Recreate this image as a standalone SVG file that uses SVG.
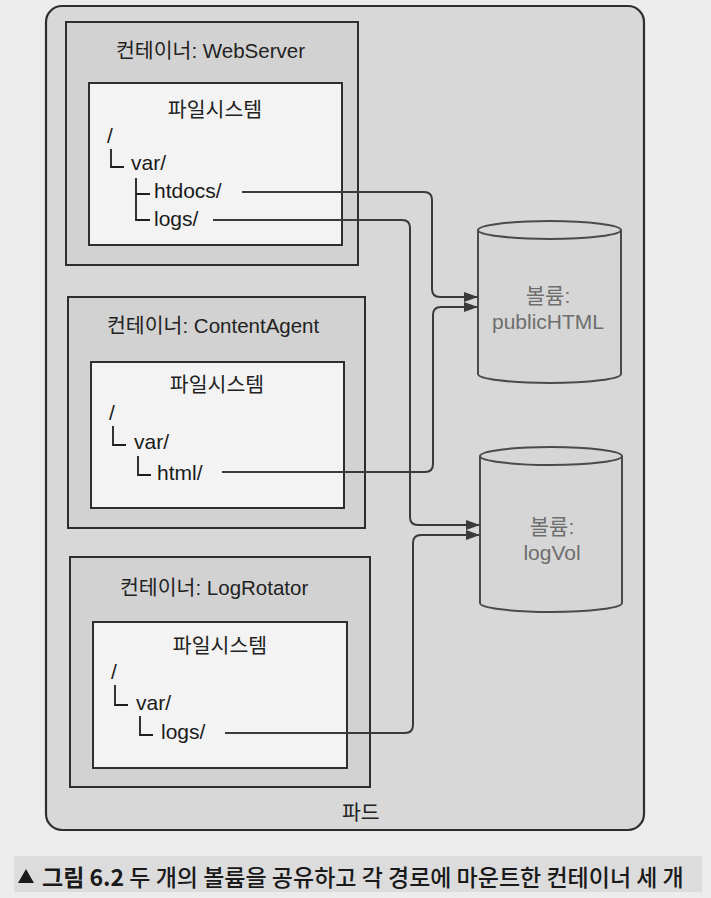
<svg xmlns="http://www.w3.org/2000/svg" width="711" height="898" viewBox="0 0 711 898">
<defs>
<style>
.t{font-family:"Liberation Sans","Noto Sans CJK KR",sans-serif;font-size:20.5px;fill:#222}
.tree{font-family:"Liberation Sans","Noto Sans CJK KR",sans-serif;font-size:21px;fill:#1a1a1a}
.vol{font-family:"Liberation Sans","Noto Sans CJK KR",sans-serif;font-size:21px;fill:#6e6e6e;text-anchor:middle}
.box{fill:#d2d2d2;stroke:#2e2e2e;stroke-width:2}
.fs{fill:#f3f3f3;stroke:#2e2e2e;stroke-width:2}
.ln{fill:none;stroke:#1e1e1e;stroke-width:1.8}
.con{fill:none;stroke:#3a3a3a;stroke-width:2}
.cyl{fill:#d6d6d6;stroke:#4a4a4a;stroke-width:2}
.cap{font-family:"Noto Sans CJK KR","Liberation Sans",sans-serif;font-size:23px;fill:#1a1a1a}
</style>
<marker id="ah" markerUnits="userSpaceOnUse" markerWidth="14" markerHeight="10" refX="13" refY="5" orient="auto">
<path d="M0,0 L14,5 L0,10 Z" fill="#3a3a3a"/>
</marker>
</defs>
<rect x="0" y="0" width="711" height="898" fill="#ececec"/>
<g id="pod">
<rect x="46" y="6" width="598" height="824" rx="16" fill="#d8d8d8" stroke="#2e2e2e" stroke-width="2.2"/>
<text class="t" x="342" y="820">파드</text>
</g>
<g id="webserver">
<rect class="box" x="66" y="22" width="292" height="243"/>
<text class="t" x="116" y="58">컨테이너: WebServer</text>
<rect class="fs" x="89" y="83" width="253" height="162"/>
<text class="t" x="215" y="117" text-anchor="middle">파일시스템</text>
<text class="tree" x="107" y="143">/</text>
<path class="ln" d="M111,149 V167 H124"/>
<text class="tree" x="131" y="170">var/</text>
<path class="ln" d="M136,178 V220 H150 M136,194 H150"/>
<text class="tree" x="154" y="198">htdocs/</text>
<text class="tree" x="154" y="226">logs/</text>
</g>
<g id="contentagent">
<rect class="box" x="68" y="297" width="297" height="231"/>
<text class="t" x="107" y="333">컨테이너: ContentAgent</text>
<rect class="fs" x="91" y="362" width="253" height="146"/>
<text class="t" x="217" y="392" text-anchor="middle">파일시스템</text>
<text class="tree" x="109" y="420">/</text>
<path class="ln" d="M113,426 V445 H126"/>
<text class="tree" x="134" y="449">var/</text>
<path class="ln" d="M138,456 V475 H151"/>
<text class="tree" x="157" y="480">html/</text>
</g>
<g id="logrotator">
<rect class="box" x="70" y="557" width="300" height="230"/>
<text class="t" x="120" y="595">컨테이너: LogRotator</text>
<rect class="fs" x="93" y="622" width="254" height="146"/>
<text class="t" x="220" y="653" text-anchor="middle">파일시스템</text>
<text class="tree" x="111" y="679">/</text>
<path class="ln" d="M115,685 V705 H128"/>
<text class="tree" x="136" y="710">var/</text>
<path class="ln" d="M140,716 V735 H153"/>
<text class="tree" x="161" y="739">logs/</text>
</g>
<g id="publicHTML">
<path class="cyl" d="M478,230 V374 A71.5,9 0 0 0 621,374 V230"/>
<ellipse class="cyl" cx="549.5" cy="230" rx="71.5" ry="9"/>
<text class="vol" x="548" y="303">볼륨:</text>
<text class="vol" x="548" y="329">publicHTML</text>
</g>
<g id="logVol">
<path class="cyl" d="M480,456 V603 A71,9 0 0 0 622,603 V456"/>
<ellipse class="cyl" cx="551" cy="456" rx="71" ry="9"/>
<text class="vol" x="552" y="534">볼륨:</text>
<text class="vol" x="552" y="560">logVol</text>
</g>
<g id="connectors">
<path class="con" marker-end="url(#ah)" d="M242,192 H424 Q432,192 432,200 V289 Q432,297 440,297 H477"/>
<path class="con" marker-end="url(#ah)" d="M213,220 H402 Q410,220 410,228 V517 Q410,525 418,525 H479"/>
<path class="con" marker-end="url(#ah)" d="M222,472 H425 Q433,472 433,464 V315 Q433,307 441,307 H477"/>
<path class="con" marker-end="url(#ah)" d="M225,733 H405 Q413,733 413,725 V543 Q413,535 421,535 H479"/>
</g>
<g id="caption">
<rect x="14" y="856" width="688" height="36" fill="#dcdcdc"/>
<path d="M18,883 L26,869 L34,883 Z" fill="#1a1a1a"/>
<text class="cap" x="42" y="886"><tspan font-weight="700">그림 6.2</tspan><tspan font-weight="500"> 두 개의 볼륨을 공유하고 각 경로에 마운트한 컨테이너 세 개</tspan></text>
</g>
</svg>
